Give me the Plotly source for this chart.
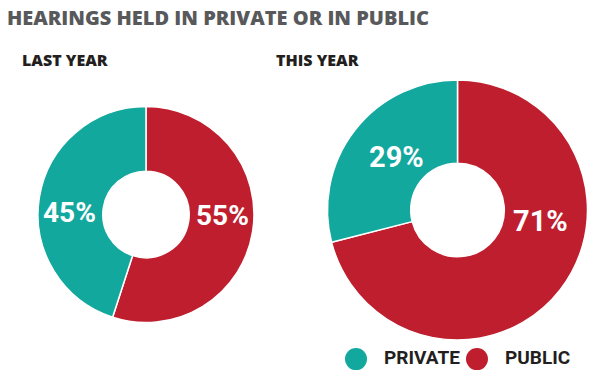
import plotly.graph_objects as go

# Data
categories = ["PUBLIC", "PRIVATE"]
last_year = [55, 45]
this_year = [71, 29]
legend_labels = ["PRIVATE", "PUBLIC"]
colors = {"PUBLIC": "#be1e2d", "PRIVATE": "#13a89e"}

title_text = "HEARINGS HELD IN PRIVATE OR IN PUBLIC"
subtitles = ["LAST YEAR", "THIS YEAR"]

label_font = "Roboto, Lato, sans-serif"
head_font = "Open Sans, Lato, sans-serif"

fig = go.Figure()

fig.add_trace(go.Pie(
    labels=categories, values=last_year, sort=False, direction="clockwise",
    rotation=0, hole=0.40,
    marker=dict(colors=[colors[c] for c in categories], line=dict(color="white", width=1.5)),
    textinfo="none",
    domain=dict(x=[0.0633, 0.4233], y=[0.1513, 0.7197]),
    showlegend=False, hoverinfo="skip",
))

fig.add_trace(go.Pie(
    labels=categories, values=this_year, sort=False, direction="clockwise",
    rotation=0, hole=0.36,
    marker=dict(colors=[colors[c] for c in categories], line=dict(color="white", width=1.5)),
    textinfo="none",
    domain=dict(x=[0.545, 0.98], y=[0.1053, 0.7895]),
    showlegend=False, hoverinfo="skip",
))

# Percentage labels, placed where the reference puts them
label_pos = [
    (last_year[0], 0.370, 0.434, 28),
    (last_year[1], 0.115, 0.440, 28),
    (this_year[0], 0.901, 0.418, 29),
    (this_year[1], 0.660, 0.586, 29),
]
for val, xp, yp, fs in label_pos:
    fig.add_annotation(text=f"{val}%", xref="paper", yref="paper", x=xp, y=yp,
                       xanchor="center", yanchor="middle", showarrow=False,
                       font=dict(family=label_font, size=fs, color="white", weight="bold"))

# Custom legend with round markers
fig.add_trace(go.Scatter(
    x=legend_labels, y=[0, 0], mode="markers+text",
    marker=dict(size=22, color=[colors[c] for c in legend_labels]),
    text=["\u00a0\u00a0\u2009" + c for c in legend_labels],
    textposition="middle right",
    textfont=dict(family=label_font, size=19, color="#231f20", weight="bold"),
    showlegend=False, hoverinfo="skip", cliponaxis=False,
))

fig.update_xaxes(domain=[0.55, 0.95], range=[-0.215, 1.769], visible=False, fixedrange=True)
fig.update_yaxes(domain=[0.0, 0.11], range=[-1, 1], visible=False, fixedrange=True)

fig.add_annotation(text=title_text, xref="paper", yref="paper", x=0.008, y=0.955,
                   xanchor="left", yanchor="middle", showarrow=False,
                   font=dict(family=head_font, size=20, color="#58595b", weight=800))
for txt, xpos in zip(subtitles, [0.033, 0.456]):
    fig.add_annotation(text=txt, xref="paper", yref="paper", x=xpos, y=0.842,
                       xanchor="left", yanchor="middle", showarrow=False,
                       font=dict(family=head_font, size=16, color="#231f20", weight=800))

fig.update_layout(
    width=600, height=380, margin=dict(l=0, r=0, t=0, b=0),
    paper_bgcolor="white", plot_bgcolor="white",
)

fig.write_html("out.html", config={"displayModeBar": False},
               post_script="document.body.style.margin='0px';")
